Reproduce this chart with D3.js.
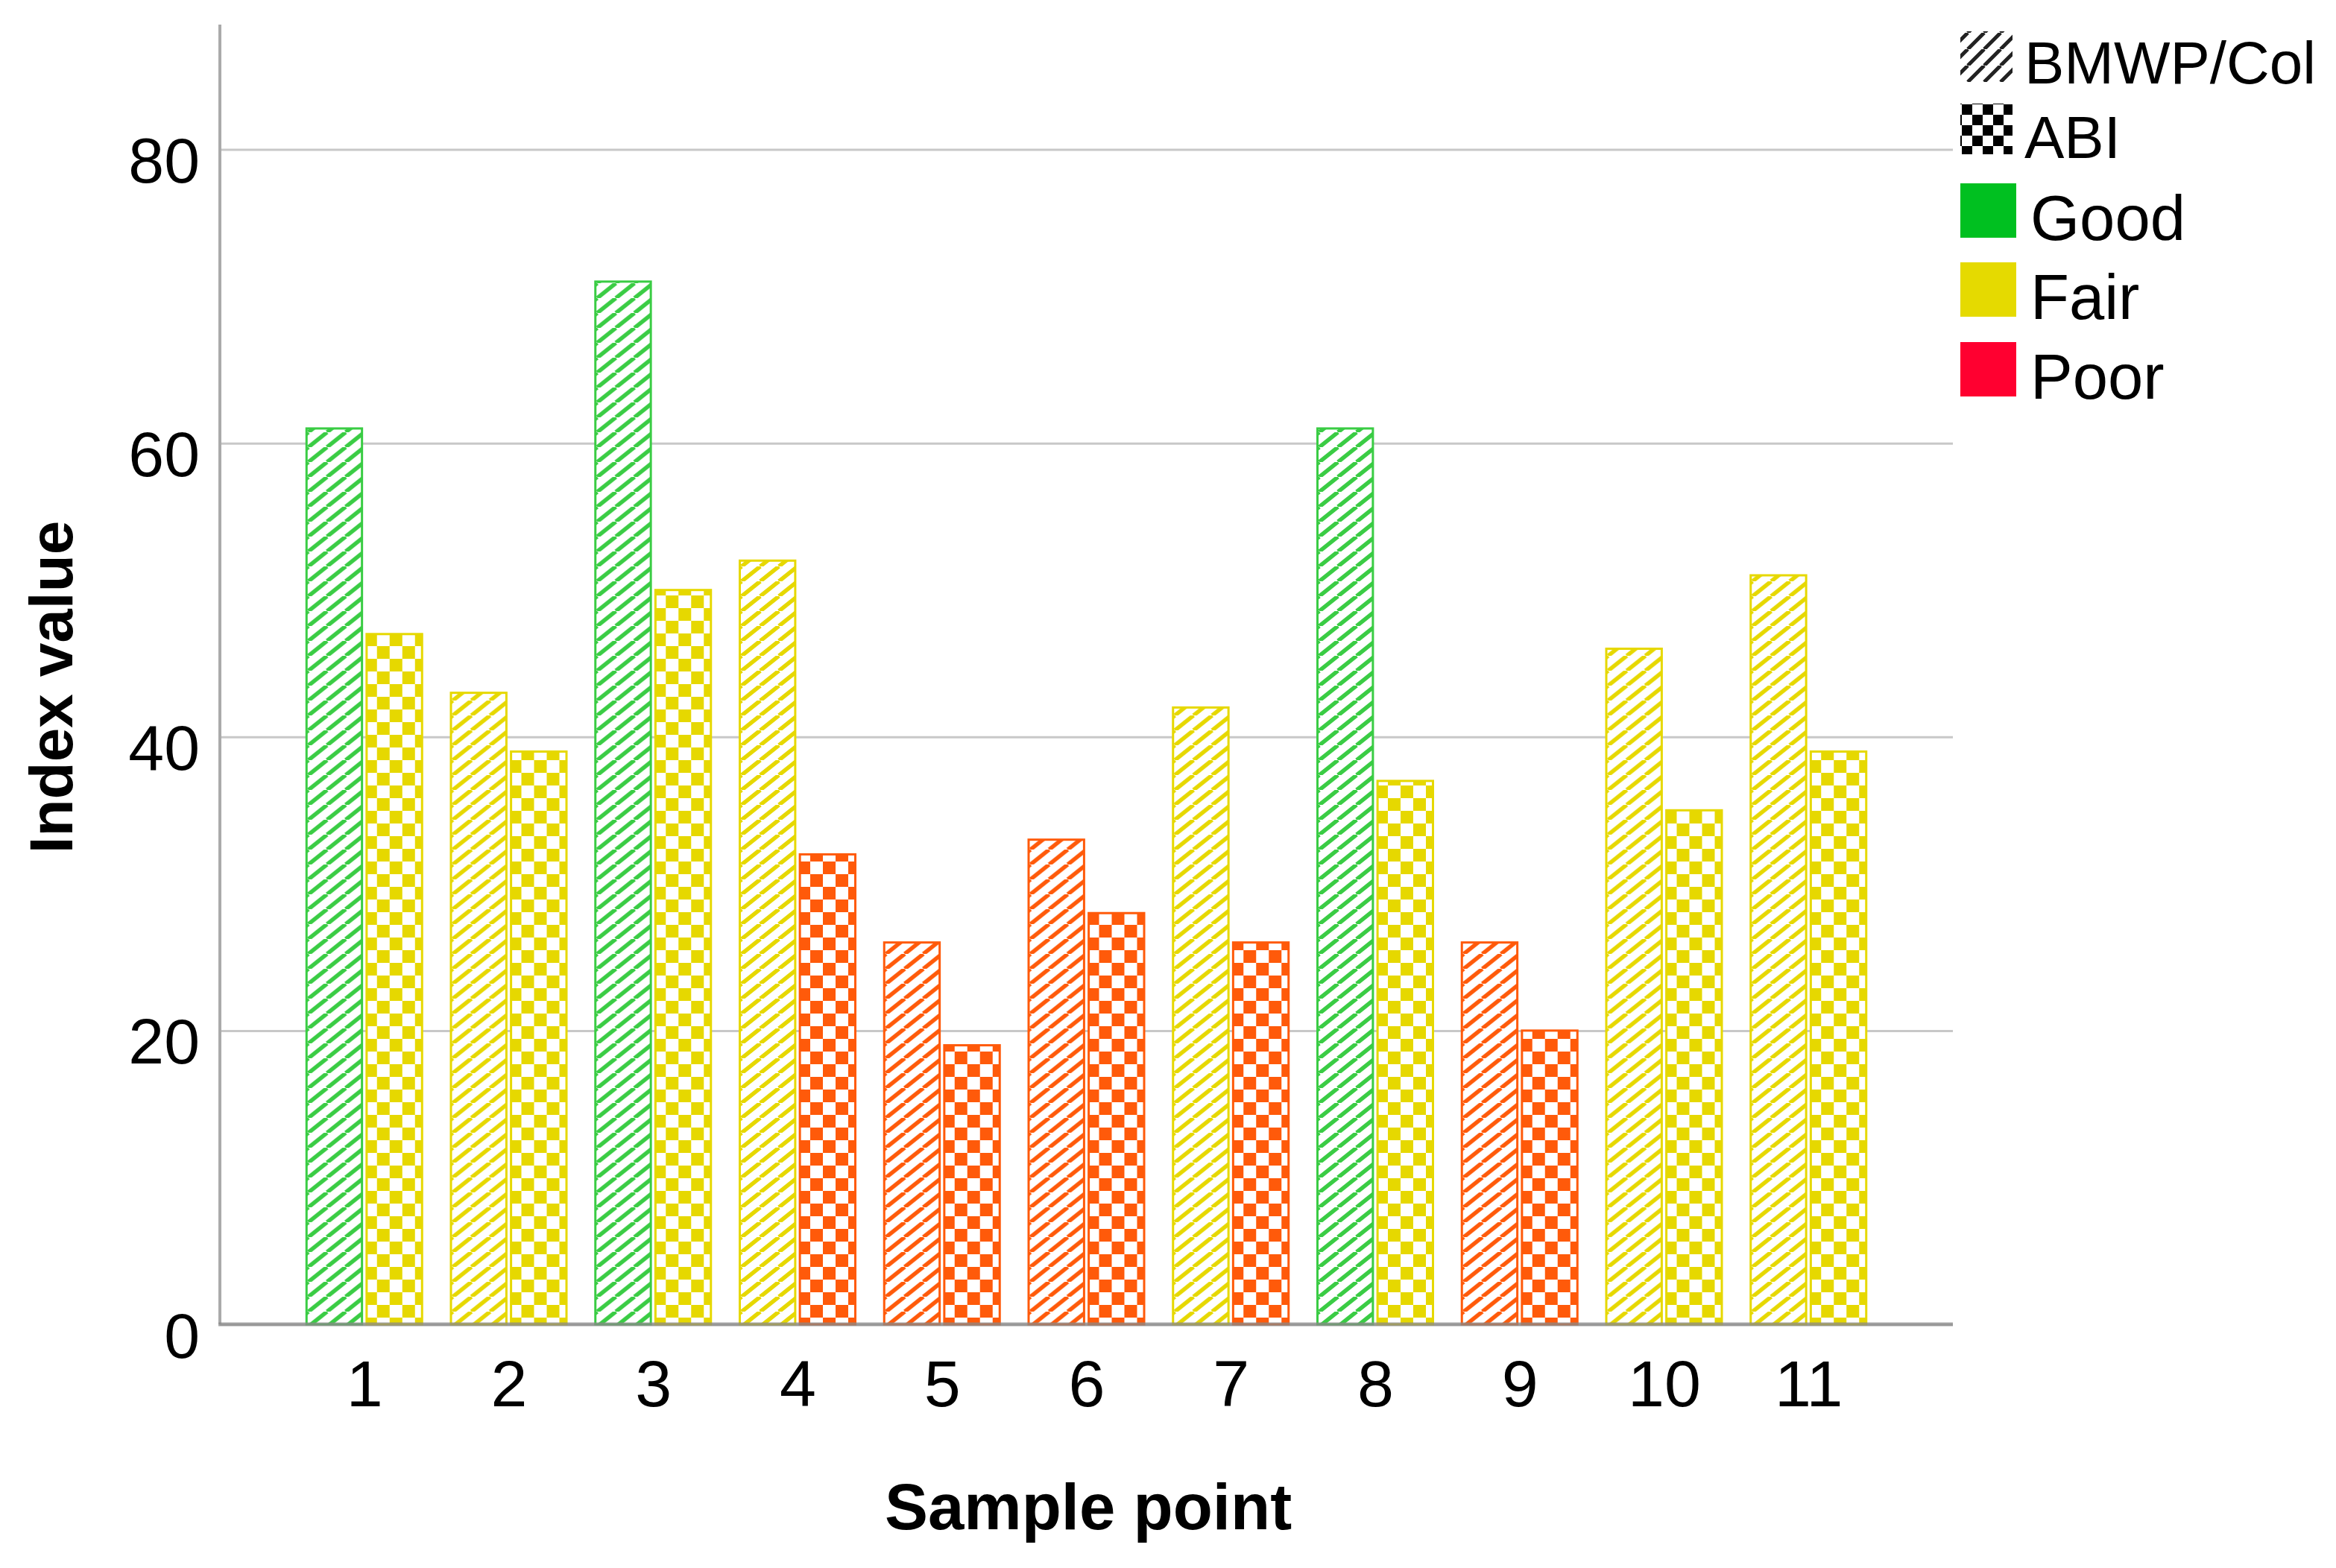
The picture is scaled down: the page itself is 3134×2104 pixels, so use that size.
<!DOCTYPE html>
<html>
<head>
<meta charset="utf-8">
<script src="https://cdn.jsdelivr.net/npm/d3@7"></script>
<style>
  html, body { margin: 0; padding: 0; background: #fff; }
  svg { display: block; }
  text { font-family: "Liberation Sans", Arial, sans-serif; fill: #000; }
</style>
</head>
<body>
<script>
// ---- data ----
const samplePoints = ["1","2","3","4","5","6","7","8","9","10","11"];
const seriesNames = ["BMWP/Col", "ABI"];
const bmwpValues = [61, 43, 71, 52, 26, 33, 42, 61, 26, 46, 51];
const abiValues  = [47, 39, 50, 32, 19, 28, 26, 37, 20, 35, 39];
const bmwpClass = ["Good","Fair","Good","Fair","Poor","Poor","Fair","Good","Poor","Fair","Fair"];
const abiClass  = ["Fair","Fair","Fair","Poor","Poor","Poor","Poor","Fair","Poor","Fair","Fair"];
const classNames = ["Good", "Fair", "Poor"];
const yTicks = [0, 20, 40, 60, 80];

// ---- styles ----
const W = 3134, H = 2104;
const barColor = { Good: "#3ACC44", Fair: "#E6D800", Poor: "#FF5A0A" };
const legendColor = { Good: "#00C020", Fair: "#E5DA00", Poor: "#FF0030" };
const plot = { left: 295, right: 2620, top: 33, bottom: 1777 };

const svg = d3.select("body").append("svg").attr("width", W).attr("height", H);
const defs = svg.append("defs");

// patterns for bars
classNames.forEach(c => {
  const h = defs.append("pattern").attr("id", "hatch-" + c)
    .attr("patternUnits", "userSpaceOnUse").attr("width", 25).attr("height", 20);
  h.append("rect").attr("width", 25).attr("height", 20).attr("fill", "#fff");
  h.append("path").attr("d", "M-25,20 L0,0 M0,20 L25,0 M25,20 L50,0")
    .attr("stroke", barColor[c]).attr("stroke-width", 5.5);

  const k = defs.append("pattern").attr("id", "check-" + c)
    .attr("patternUnits", "userSpaceOnUse").attr("width", 34).attr("height", 34);
  k.append("rect").attr("width", 34).attr("height", 34).attr("fill", "#fff");
  k.append("rect").attr("x", 0).attr("y", 0).attr("width", 17).attr("height", 17).attr("fill", barColor[c]);
  k.append("rect").attr("x", 17).attr("y", 17).attr("width", 17).attr("height", 17).attr("fill", barColor[c]);
});
// legend patterns (black)
{
  const h = defs.append("pattern").attr("id", "hatch-legend")
    .attr("patternUnits", "userSpaceOnUse").attr("width", 22).attr("height", 22);
  h.append("rect").attr("width", 22).attr("height", 22).attr("fill", "#fff");
  h.append("path").attr("d", "M-22,22 L0,0 M0,22 L22,0 M22,22 L44,0")
    .attr("stroke", "#222").attr("stroke-width", 5);
  const k = defs.append("pattern").attr("id", "check-legend")
    .attr("patternUnits", "userSpaceOnUse").attr("width", 28).attr("height", 28);
  k.append("rect").attr("width", 28).attr("height", 28).attr("fill", "#fff");
  k.append("rect").attr("x", 0).attr("y", 0).attr("width", 14).attr("height", 14).attr("fill", "#000");
  k.append("rect").attr("x", 14).attr("y", 14).attr("width", 14).attr("height", 14).attr("fill", "#000");
}

// ---- scales ----
const x = d3.scalePoint().domain(samplePoints).range([plot.left, plot.right]).padding(1);
const sub = d3.scaleBand().domain(seriesNames).range([-79, 79]).paddingInner(0.04);
const y = d3.scaleLinear().domain([0, 88.5]).range([plot.bottom, plot.top]);

// ---- y axis with gridlines ----
const yAxis = svg.append("g").attr("transform", `translate(${plot.left},0)`)
  .call(d3.axisLeft(y).tickValues(yTicks).tickSize(-(plot.right - plot.left)).tickPadding(27));
yAxis.select(".domain").remove();
yAxis.selectAll(".tick line").attr("stroke", "#c8c8c8").attr("stroke-width", 3);
yAxis.selectAll(".tick text").attr("font-size", 86).attr("dy", 44)
  .attr("font-family", "Liberation Sans, Arial, sans-serif").attr("fill", "#000");

// ---- bars ----
const rows = samplePoints.map((p, i) => ({
  p, items: [
    { s: "BMWP/Col", v: bmwpValues[i], c: bmwpClass[i], pat: "hatch" },
    { s: "ABI", v: abiValues[i], c: abiClass[i], pat: "check" }
  ]
}));
const groups = svg.append("g").selectAll("g").data(rows).join("g")
  .attr("transform", d => `translate(${x(d.p)},0)`);
groups.selectAll("rect").data(d => d.items).join("rect")
  .attr("x", d => sub(d.s) + 1.5)
  .attr("width", sub.bandwidth() - 3)
  .attr("y", d => y(d.v))
  .attr("height", d => y(0) - y(d.v))
  .attr("fill", d => `url(#${d.pat}-${d.c})`)
  .attr("stroke", d => barColor[d.c])
  .attr("stroke-width", 3);

// ---- axis lines ----
svg.append("line").attr("x1", plot.left).attr("x2", plot.left)
  .attr("y1", plot.top).attr("y2", plot.bottom)
  .attr("stroke", "#aaaaaa").attr("stroke-width", 4);
svg.append("line").attr("x1", plot.left - 2).attr("x2", plot.right)
  .attr("y1", plot.bottom).attr("y2", plot.bottom)
  .attr("stroke", "#888888").attr("stroke-width", 5).attr("stroke-opacity", 0.75);

// ---- x axis labels ----
const xAxis = svg.append("g").attr("transform", `translate(0,${plot.bottom})`)
  .call(d3.axisBottom(x).tickSize(0).tickPadding(48));
xAxis.select(".domain").remove();
xAxis.selectAll(".tick text").attr("font-size", 88)
  .attr("font-family", "Liberation Sans, Arial, sans-serif").attr("fill", "#000");

// ---- titles ----
svg.append("text").attr("x", 1460).attr("y", 2052).attr("text-anchor", "middle")
  .attr("font-size", 87).attr("font-weight", "bold").text("Sample point");
svg.append("text").attr("transform", "translate(97,922) rotate(-90)")
  .attr("text-anchor", "middle").attr("font-size", 82).attr("font-weight", "bold")
  .text("Index value");

// ---- legend ----
const lg = svg.append("g");
const patItems = [
  { label: "BMWP/Col", fill: "url(#hatch-legend)", y0: 42, base: 112 },
  { label: "ABI", fill: "url(#check-legend)", y0: 139, base: 212 }
];
patItems.forEach(it => {
  lg.append("rect").attr("x", 2630).attr("y", it.y0).attr("width", 70).attr("height", 68)
    .attr("fill", it.fill);
  lg.append("text").attr("x", 2716).attr("y", it.base).attr("font-size", 80).text(it.label);
});
const classLegendY = { Good: 246, Fair: 352, Poor: 459 };
classNames.forEach(c => {
  lg.append("rect").attr("x", 2630).attr("y", classLegendY[c]).attr("width", 75).attr("height", 73)
    .attr("fill", legendColor[c]);
  lg.append("text").attr("x", 2724).attr("y", classLegendY[c] + 76).attr("font-size", 85).text(c);
});
</script>
</body>
</html>
